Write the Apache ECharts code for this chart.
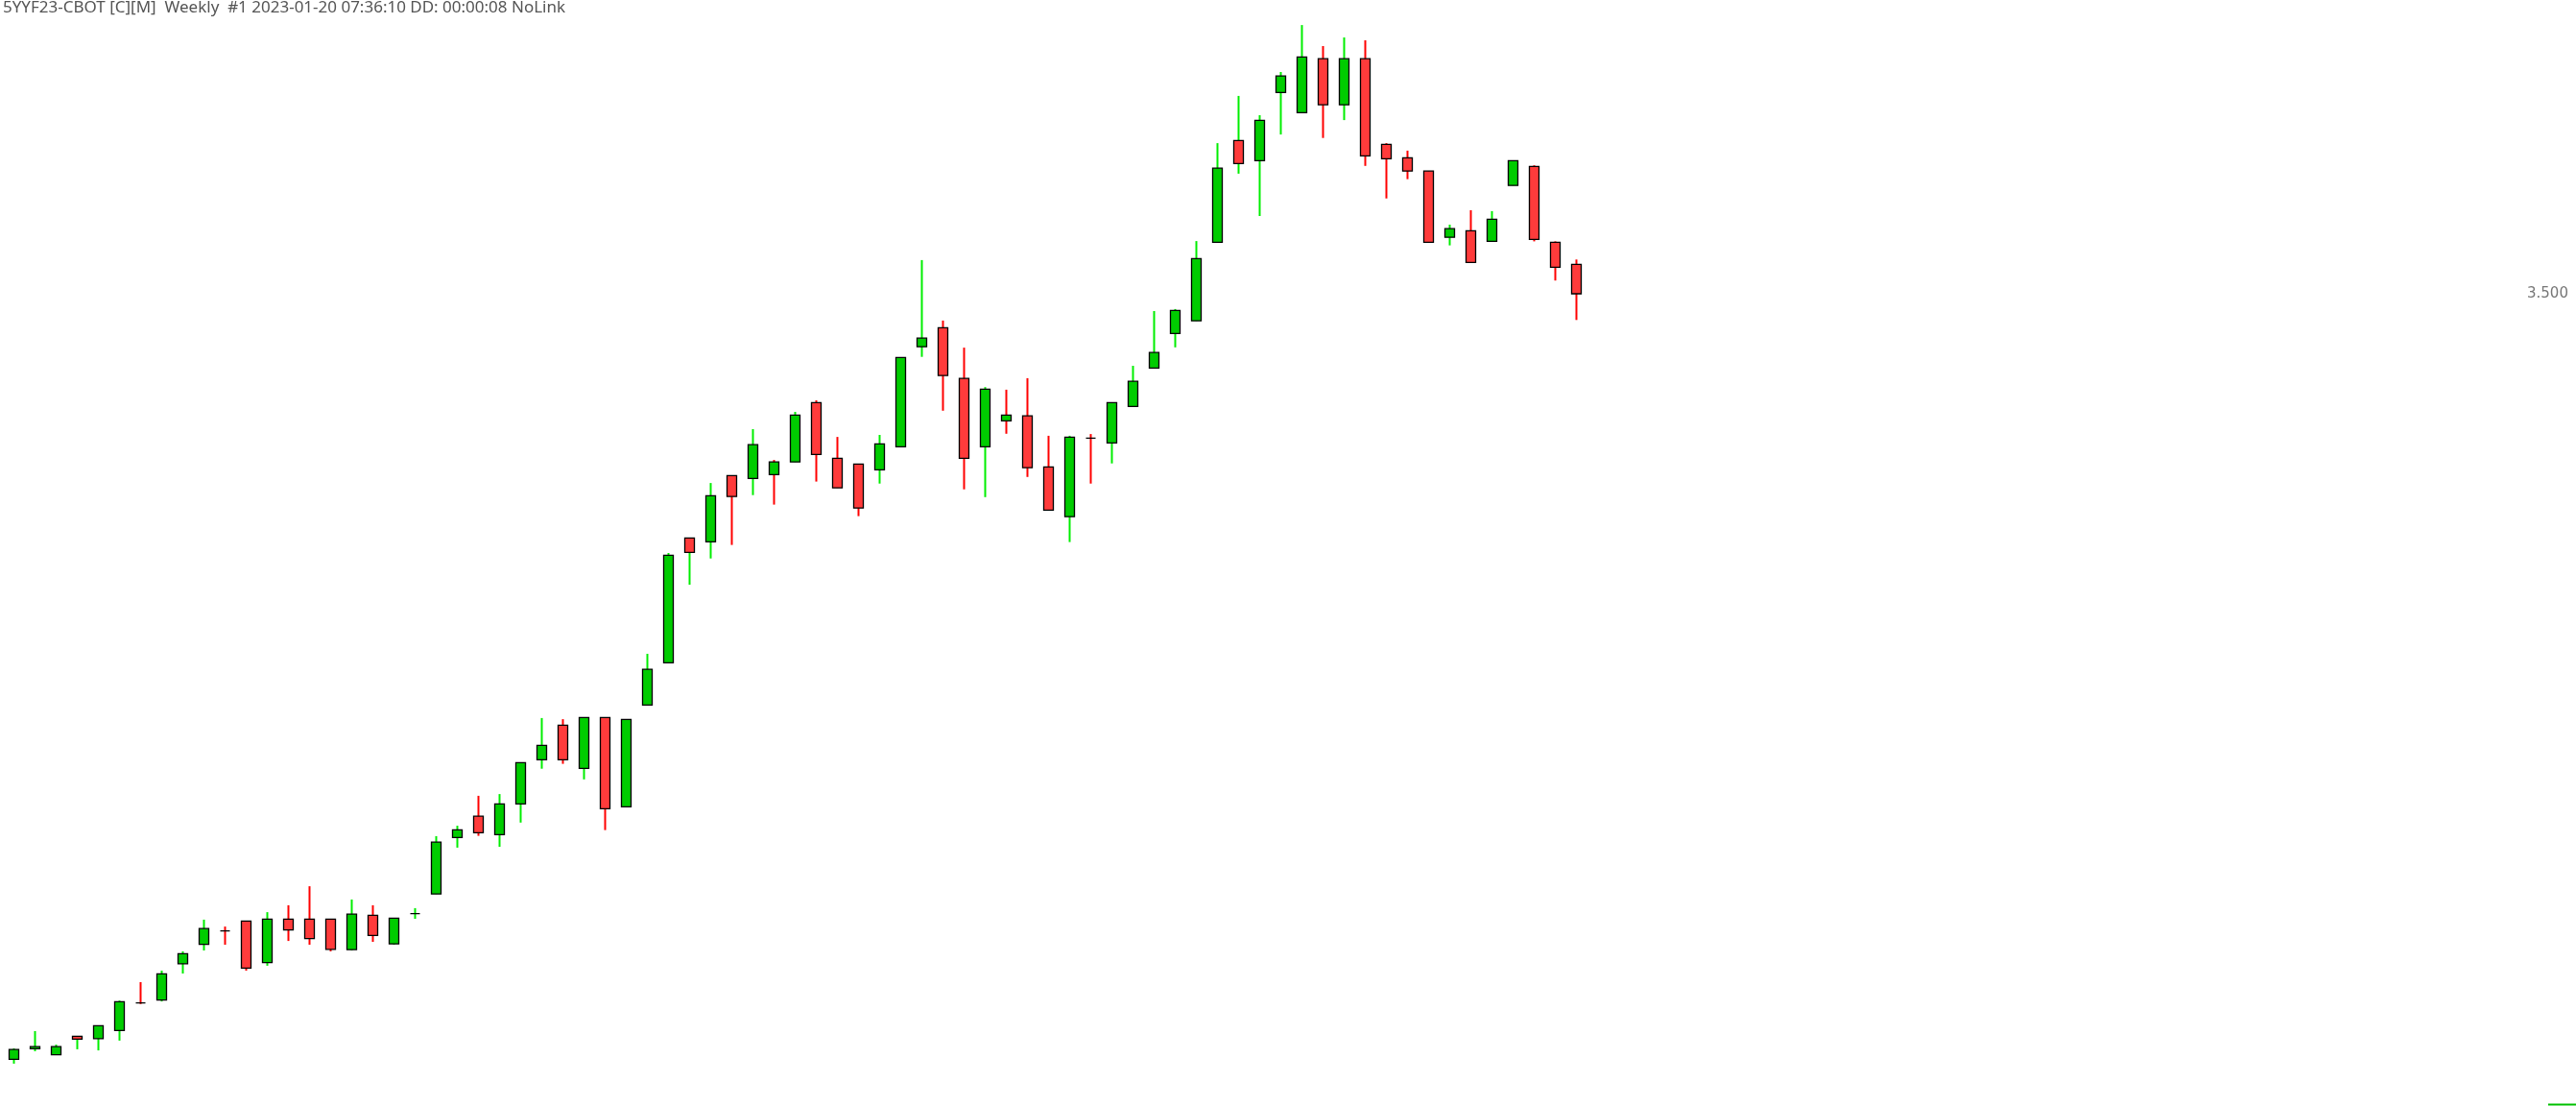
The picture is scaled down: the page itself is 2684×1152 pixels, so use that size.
<!DOCTYPE html>
<html>
<head>
<meta charset="utf-8">
<title>5YYF23-CBOT Weekly</title>
<script src="https://cdn.jsdelivr.net/npm/echarts@6/dist/echarts.min.js"></script>
<style>
  html, body { margin: 0; padding: 0; background: #fff; }
  #chart { width: 2684px; height: 1152px; }
</style>
</head>
<body>
<div id="chart"></div>
<script>
// weekly bars, last one is 2023-01-20
const lastWeek = '2023-01-20';

const opens = [0.842, 0.879, 0.858, 0.922, 0.914, 0.942, 1.038, 1.048, 1.174, 1.241,
  1.288, 1.322, 1.178, 1.329, 1.329, 1.329, 1.223, 1.342, 1.243, 1.348,
  1.416, 1.612, 1.686, 1.622, 1.729, 1.882, 2.002, 1.852, 2.029, 1.719,
  2.072, 2.219, 2.652, 2.639, 2.869, 2.859, 2.872, 2.916, 3.122, 2.929,
  2.909, 2.889, 2.969, 3.316, 3.382, 3.206, 2.969, 3.059, 3.076, 2.899,
  2.726, 2.999, 2.982, 3.109, 3.242, 3.362, 3.406, 3.679, 4.032, 3.962,
  4.199, 4.129, 4.316, 4.156, 4.316, 4.019, 3.972, 3.926, 3.696, 3.719,
  3.682, 3.876, 3.942, 3.679, 3.602];

const closes = [0.876, 0.886, 0.886, 0.912, 0.959, 1.042, 1.038, 1.139, 1.209, 1.296,
  1.288, 1.159, 1.329, 1.291, 1.261, 1.224, 1.346, 1.272, 1.332, 1.348,
  1.596, 1.639, 1.629, 1.729, 1.872, 1.932, 1.882, 2.029, 1.712, 2.022,
  2.196, 2.592, 2.602, 2.799, 2.796, 2.976, 2.916, 3.079, 2.942, 2.826,
  2.756, 2.979, 3.279, 3.346, 3.216, 2.929, 3.169, 3.079, 2.896, 2.749,
  3.002, 2.999, 3.122, 3.196, 3.296, 3.442, 3.622, 3.936, 3.952, 4.102,
  4.256, 4.322, 4.156, 4.316, 3.979, 3.969, 3.926, 3.679, 3.726, 3.609,
  3.759, 3.962, 3.689, 3.592, 3.500];

const lows = [0.827, 0.870, 0.858, 0.877, 0.873, 0.907, 1.034, 1.043, 1.140, 1.220,
  1.240, 1.150, 1.167, 1.253, 1.240, 1.217, 1.220, 1.250, 1.240, 1.330,
  1.416, 1.577, 1.618, 1.580, 1.664, 1.851, 1.868, 1.814, 1.638, 1.719,
  2.072, 2.219, 2.490, 2.581, 2.628, 2.801, 2.768, 2.916, 2.848, 2.826,
  2.728, 2.841, 2.969, 3.281, 3.094, 2.821, 2.794, 3.014, 2.864, 2.749,
  2.638, 2.841, 2.911, 3.109, 3.242, 3.314, 3.406, 3.679, 3.917, 3.770,
  4.053, 4.129, 4.041, 4.103, 3.944, 3.831, 3.898, 3.679, 3.668, 3.609,
  3.682, 3.876, 3.682, 3.546, 3.409];

const highs = [0.880, 0.940, 0.893, 0.922, 0.959, 1.046, 1.110, 1.150, 1.217, 1.327,
  1.303, 1.322, 1.353, 1.377, 1.443, 1.330, 1.397, 1.377, 1.332, 1.367,
  1.617, 1.653, 1.757, 1.763, 1.872, 2.027, 2.023, 2.029, 2.029, 2.022,
  2.250, 2.600, 2.652, 2.843, 2.869, 3.030, 2.923, 3.090, 3.130, 3.003,
  2.909, 3.010, 3.279, 3.617, 3.407, 3.313, 3.176, 3.167, 3.207, 3.007,
  3.007, 3.013, 3.122, 3.250, 3.440, 3.447, 3.683, 4.023, 4.187, 4.120,
  4.270, 4.433, 4.360, 4.390, 4.380, 4.023, 3.997, 3.926, 3.740, 3.790,
  3.787, 3.962, 3.946, 3.682, 3.619];

const priceLabels = [3.5];

// empty weeks kept on the right side of the chart
const slots = 121;

const upBody = '#00CC00', downBody = '#FF3B3B';
const upWick = '#00EE00', downWick = '#FF0000';

// week labels, counted back from the last bar
let weeks = [];
let end = new Date(lastWeek + 'T00:00:00Z');
for (let i = 0; i < slots; i++) {
    let d = new Date(end.getTime() + (i - (opens.length - 1)) * 7 * 86400000);
    weeks.push(d.toISOString().slice(0, 10));
}

// wick colour follows the close against the previous close
let wickData = opens.map((o, i) => {
    let up = i === 0 || closes[i] >= closes[i - 1];
    let c = up ? upWick : downWick;
    return {
        value: [o, closes[i], lows[i], highs[i]],
        itemStyle: { color: c, color0: c, borderColor: c, borderColor0: c }
    };
});

// bodies only (no shadow part)
let bodyData = opens.map((o, i) => [o, closes[i], Math.min(o, closes[i]), Math.max(o, closes[i])]);

let myChart = echarts.init(document.getElementById('chart'), null, { renderer: 'canvas' });

let option = {
    animation: false,
    backgroundColor: '#ffffff',
    title: {
        text: '5YYF23-CBOT [C][M]  Weekly  #1 2023-01-20 07:36:10 DD: 00:00:08 NoLink',
        left: 3,
        top: 0,
        padding: 0,
        textStyle: {
            fontFamily: '"Noto Sans", sans-serif',
            fontSize: 17,
            fontWeight: 'normal',
            color: '#555555'
        }
    },
    grid: {
        left: 3.5,
        right: 18.5,
        top: 0,
        bottom: 0
    },
    xAxis: {
        type: 'category',
        data: weeks,
        boundaryGap: true,
        axisLine: { show: false },
        axisTick: { show: false },
        axisLabel: { show: false },
        splitLine: { show: false }
    },
    yAxis: {
        type: 'value',
        position: 'right',
        min: 0.68,
        max: 4.52,
        offset: -40.5,
        axisLine: { show: false },
        axisTick: { show: false },
        splitLine: { show: false },
        axisLabel: {
            customValues: priceLabels,
            margin: 8,
            fontFamily: '"DejaVu Sans", sans-serif',
            fontSize: 15,
            color: '#777777',
            formatter: v => v.toFixed(3)
        }
    },
    graphic: [
        {
            type: 'line',
            shape: { x1: 2655, y1: 1150.5, x2: 2684, y2: 1150.5 },
            style: { stroke: '#00C000', lineWidth: 2 }
        }
    ],
    series: [
        {
            name: 'wick',
            type: 'candlestick',
            barWidth: 1,
            data: wickData,
            itemStyle: { borderWidth: 2 }
        },
        {
            name: 'body',
            type: 'candlestick',
            barWidth: 11,
            barGap: '-100%',
            data: bodyData,
            itemStyle: {
                color: upBody,
                color0: downBody,
                borderColor: '#000000',
                borderColor0: '#000000',
                borderColorDoji: '#000000',
                borderWidth: 1.3
            }
        }
    ]
};
option && myChart.setOption(option);
</script>
</body>
</html>
